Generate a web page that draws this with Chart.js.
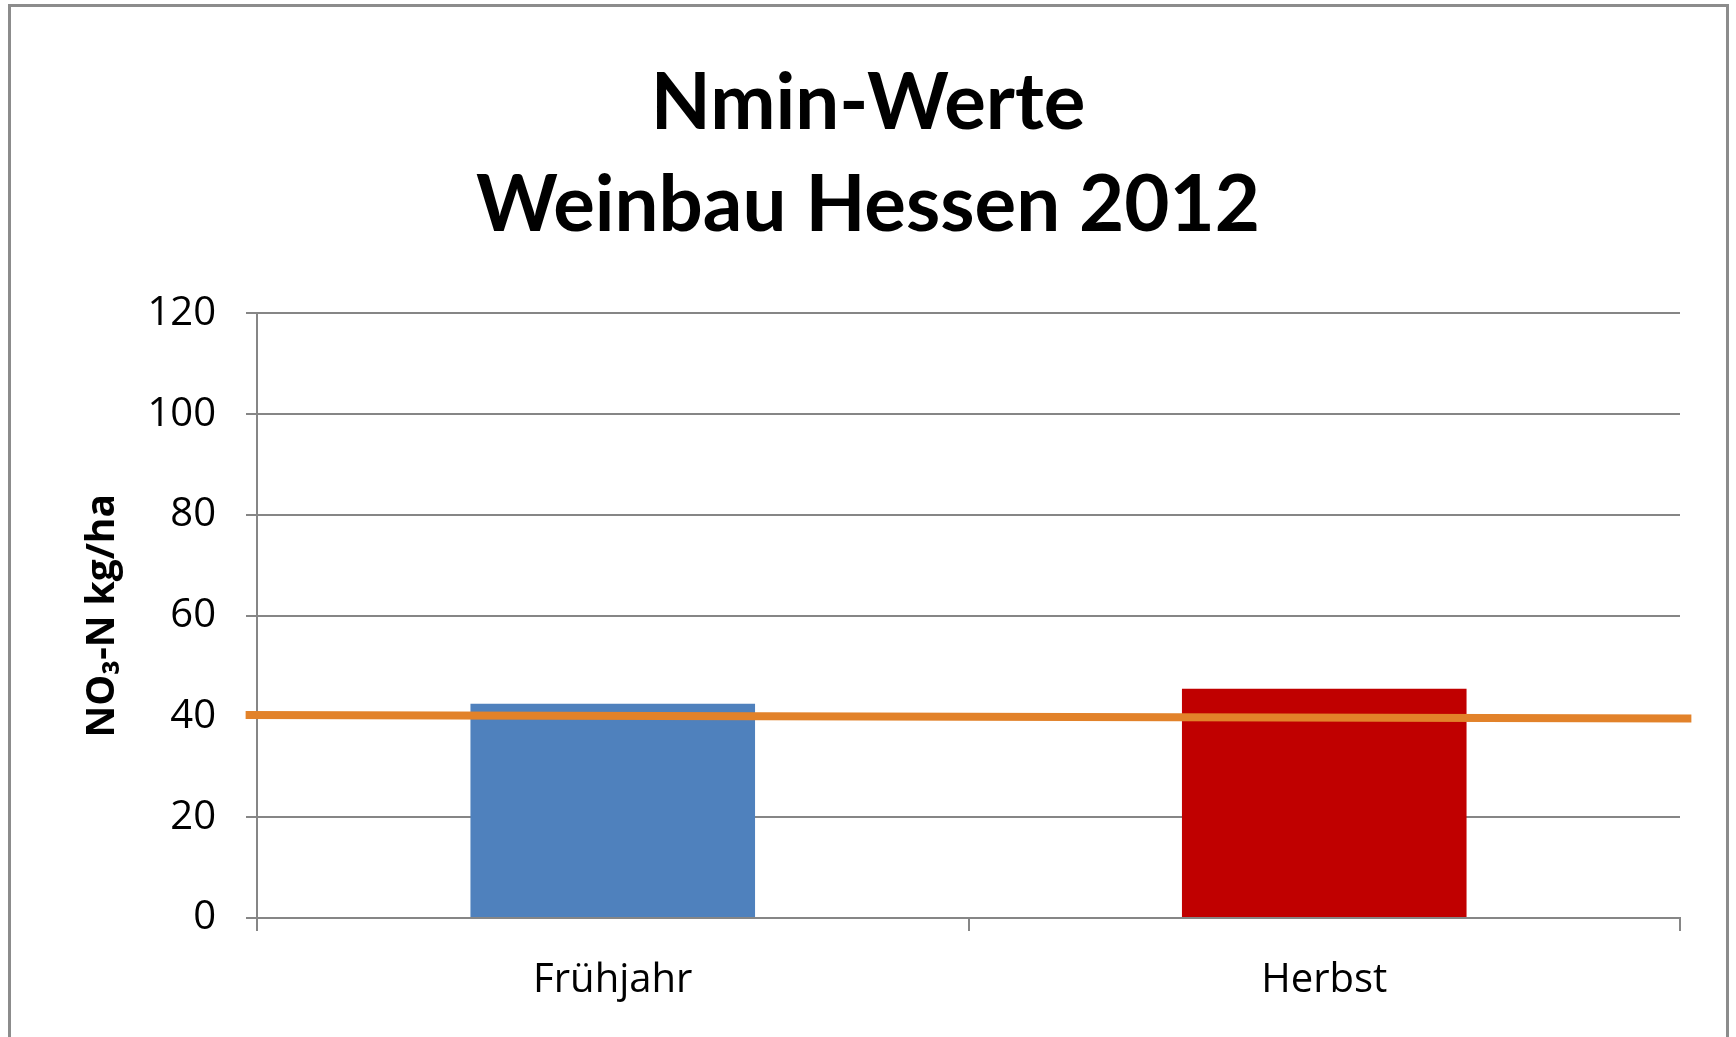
<!DOCTYPE html>
<html lang="de">
<head>
  <meta charset="UTF-8" />
  <title>Nmin-Werte Weinbau Hessen 2012</title>
  <script src="https://cdn.jsdelivr.net/npm/chart.js"></script>
  <style>
    html, body {
      margin: 0;
      padding: 0;
      background: #fff;
      overflow: hidden;
    }
    .frame {
      position: absolute;
      left: 8px;
      top: 4px;
      width: 1721px;
      height: 1040px;
      border: 3px solid #8c8c8c;
      border-bottom: none;
      box-sizing: border-box;
    }
    .chart-box {
      position: absolute;
      left: 0;
      top: 0;
      width: 1736px;
      height: 1037px;
    }
  </style>
</head>
<body>

<div class="frame"></div>
<div class="chart-box"><canvas id="chart"></canvas></div>

<script>
// data
const categories = ['Frühjahr', 'Herbst'];
const nminValues = [42.5, 45.5];
const barColors = ['#4f81bd', '#c00000'];
// orange reference line, slightly sloped, reaching a bit past both axes
const refLineX = [-0.008, 1.008];
const refLineY = [40.3, 39.6];
const yTicks = [0, 20, 40, 60, 80, 100, 120];

const ctx = document.getElementById('chart').getContext('2d');

new Chart(ctx, {
  type: 'bar',
  data: {
    labels: categories,
    datasets: [
      {
        type: 'line',
        label: 'Grenzwert',
        data: refLineX.map((x, i) => ({ x, y: refLineY[i] })),
        xAxisID: 'xLine',
        borderColor: '#e2822a',
        borderWidth: 8,
        borderCapStyle: 'butt',
        pointRadius: 0,
        clip: false,
        order: 0
      },
      {
        label: 'Nmin',
        data: nminValues,
        backgroundColor: barColors,
        grouped: false,
        barPercentage: 0.4,
        categoryPercentage: 1,
        order: 1
      }
    ]
  },
  options: {
    responsive: true,
    maintainAspectRatio: false,
    animation: false,
    layout: { padding: { top: 53, left: 56, right: 56, bottom: 10 } },
    plugins: {
      legend: { display: false },
      tooltip: { enabled: false },
      title: {
        display: true,
        text: ['Nmin-Werte', 'Weinbau Hessen 2012'],
        color: '#000',
        font: { family: 'Lato', size: 78, weight: 'bold', lineHeight: 1.31 },
        padding: { top: 0, bottom: 56 }
      }
    },
    scales: {
      x: {
        grid: { drawOnChartArea: false, drawTicks: true, tickLength: 13, color: '#868686', lineWidth: 2 },
        border: { display: true, color: '#868686', width: 2 },
        ticks: { color: '#000', font: { family: 'Open Sans', size: 40 }, padding: 26 },
        afterFit: s => { s.height = 109; }
      },
      xLine: {
        type: 'linear',
        display: false,
        offset: false,
        min: 0,
        max: 1
      },
      y: {
        min: 0,
        max: 120,
        afterBuildTicks: s => { s.ticks = yTicks.map(v => ({ value: v })); },
        grid: { color: '#868686', lineWidth: 2, tickLength: 11 },
        border: { display: true, color: '#868686', width: 2 },
        ticks: { color: '#000', font: { family: 'Open Sans', size: 40 }, padding: 30 },
        title: {
          display: true,
          text: 'NO₃-N kg/ha',
          color: '#000',
          font: { family: 'Open Sans', size: 39, weight: 'bold' },
          padding: { top: 23, bottom: 0 }
        },
        afterFit: s => { s.width = 201; }
      }
    }
  }
});
</script>

</body>
</html>
